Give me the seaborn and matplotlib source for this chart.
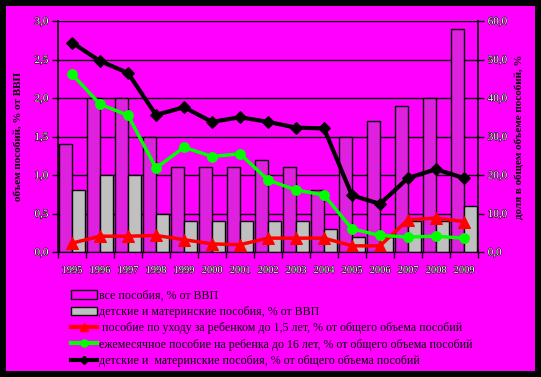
import matplotlib
matplotlib.use("Agg")
import matplotlib.pyplot as plt
import matplotlib.patheffects as pe
from matplotlib.patches import Rectangle, Patch
from matplotlib.lines import Line2D
import seaborn as sns
import pandas as pd
import numpy as np

years = ['1995', '1996', '1997', '1998', '1999', '2000', '2001', '2002',
         '2003', '2004', '2005', '2006', '2007', '2008', '2009']
all_gdp = [1.4, 2.0, 2.0, 1.5, 1.1, 1.1, 1.1, 1.2, 1.1, 0.8, 1.5, 1.7, 1.9, 2.0, 2.9]
child_gdp = [0.8, 1.0, 1.0, 0.5, 0.4, 0.4, 0.4, 0.4, 0.4, 0.3, 0.2, 0.2, 0.4, 0.4, 0.6]
care_share = [2.3, 4.1, 4.1, 4.3, 3.2, 2.1, 1.9, 3.6, 3.6, 3.6, 1.6, 1.6, 8.4, 8.8, 7.9]
monthly_share = [46.2, 38.4, 35.5, 21.8, 27.2, 24.8, 25.5, 18.7, 16.1, 14.8, 6.0, 4.3, 3.9, 4.1, 3.6]
child_share = [54.4, 49.6, 46.5, 35.6, 37.6, 33.8, 35.0, 33.8, 32.3, 32.1, 14.7, 12.5, 19.2, 21.5, 19.2]

lab_all = 'все пособия, % от ВВП'
lab_child = 'детские и материнские пособия, % от ВВП'
lab_care = ' пособие по уходу за ребенком до 1,5 лет, % от общего объема пособий'
lab_monthly = 'ежемесячное пособие на ребенка до 16 лет, % от общего объема пособий'
lab_share = 'детские и  материнские пособия, % от общего объема пособий'

MAG = '#FF00FF'
GRAY = '#C0C0C0'

plt.rcParams['font.family'] = ['Liberation Serif', 'DejaVu Serif']

fig = plt.figure(figsize=(5.41, 3.77), dpi=100)
fig.patch.set_facecolor('black')
fig.add_artist(Rectangle((6 / 541, 1 - 371 / 377), 529 / 541, 365 / 377,
                         transform=fig.transFigure, facecolor=MAG,
                         edgecolor='none', zorder=-10))

ax = fig.add_axes([58 / 541, 1 - 252 / 377, 420 / 541, 231 / 377])
ax.set_facecolor(MAG)

bars = pd.DataFrame({
    'year': years * 2,
    'value': all_gdp + child_gdp,
    'series': [lab_all] * len(years) + [lab_child] * len(years),
})
sns.barplot(data=bars, x='year', y='value', hue='series', ax=ax,
            palette={lab_all: MAG, lab_child: GRAY}, edgecolor='black',
            linewidth=1, width=0.96, gap=0, legend=False, zorder=2)

ax.set_ylim(0, 3.0)
ax.set_xlim(-0.5, len(years) - 0.5)
ax.set_yticks(np.arange(0, 3.01, 0.5))
ax.yaxis.grid(True, color='black', linewidth=1)
ax.set_axisbelow(True)
ax.set_xlabel('')
ax.set_ylabel('объем пособий, % от ВВП', fontsize=8, fontweight='bold', labelpad=8)

ax2 = ax.twinx()
x = np.arange(len(years))
sns.lineplot(x=x, y=care_share, ax=ax2, color='#FF0000', marker='^',
             markersize=8, markeredgecolor='#FF0000', linewidth=2.5)
sns.lineplot(x=x, y=monthly_share, ax=ax2, color='#00FF00', marker='o',
             markersize=7, markeredgecolor='#00FF00', linewidth=2.5)
sns.lineplot(x=x, y=child_share, ax=ax2, color='black', marker='D',
             markersize=6, markeredgecolor='black', linewidth=3)
ax2.set_ylim(0, 60)
ax2.set_yticks(np.arange(0, 61, 10))
ax2.set_ylabel('доля в общем объеме пособий, %', fontsize=8, fontweight='bold',
               rotation=90, labelpad=5)

fmt = lambda v: ('%.1f' % v).replace('.', ',')
ax.set_yticklabels([fmt(v) for v in np.arange(0, 3.01, 0.5)])
ax2.set_yticklabels([fmt(v) for v in np.arange(0, 61, 10)])

for a in (ax, ax2):
    for s in a.spines.values():
        s.set_visible(False)
    a.spines['bottom'].set_visible(True)
ax.spines['left'].set_visible(True)
ax2.spines['right'].set_visible(True)
for s in ax2.spines.values():
    s.set_color('black')
ax.spines['left'].set_linewidth(1.2)
ax2.spines['right'].set_linewidth(1.2)

ax.set_xticks(x)
ax.set_xticklabels(years)
ax.set_xticks(np.arange(-0.5, len(years), 1.0), minor=True)
ax.tick_params(axis='x', which='major', length=0, pad=10)
ax.tick_params(axis='x', which='minor', length=4, width=1, color='black')
ax.tick_params(axis='y', length=4, width=1, color='black', pad=3)
ax2.tick_params(axis='y', length=4, width=1, color='black', pad=3)

stroke = [pe.withStroke(linewidth=0.7, foreground='black')]
for t in ax.get_yticklabels() + ax2.get_yticklabels():
    t.set_color('white')
    t.set_fontsize(8)
    t.set_path_effects(stroke)
for t in ax.get_xticklabels():
    t.set_color('white')
    t.set_fontsize(7.5)
    t.set_path_effects(stroke)

handles = [
    Patch(facecolor=MAG, edgecolor='black', linewidth=1),
    Patch(facecolor=GRAY, edgecolor='black', linewidth=1),
    Line2D([], [], color='#FF0000', marker='^', markersize=6, linewidth=3),
    Line2D([], [], color='#00FF00', marker='o', markersize=5, linewidth=3),
    Line2D([], [], color='black', marker='D', markersize=4, linewidth=3),
]
fig.legend(handles, [lab_all, lab_child, lab_care, lab_monthly, lab_share],
           loc='upper left', bbox_to_anchor=(66 / 541, 1 - 285 / 377),
           frameon=False, fontsize=8.6, handlelength=2.2, handleheight=0.7,
           handletextpad=0.2, labelspacing=0.36, borderaxespad=0)

plt.savefig('out.png', dpi=100, facecolor=fig.get_facecolor())
